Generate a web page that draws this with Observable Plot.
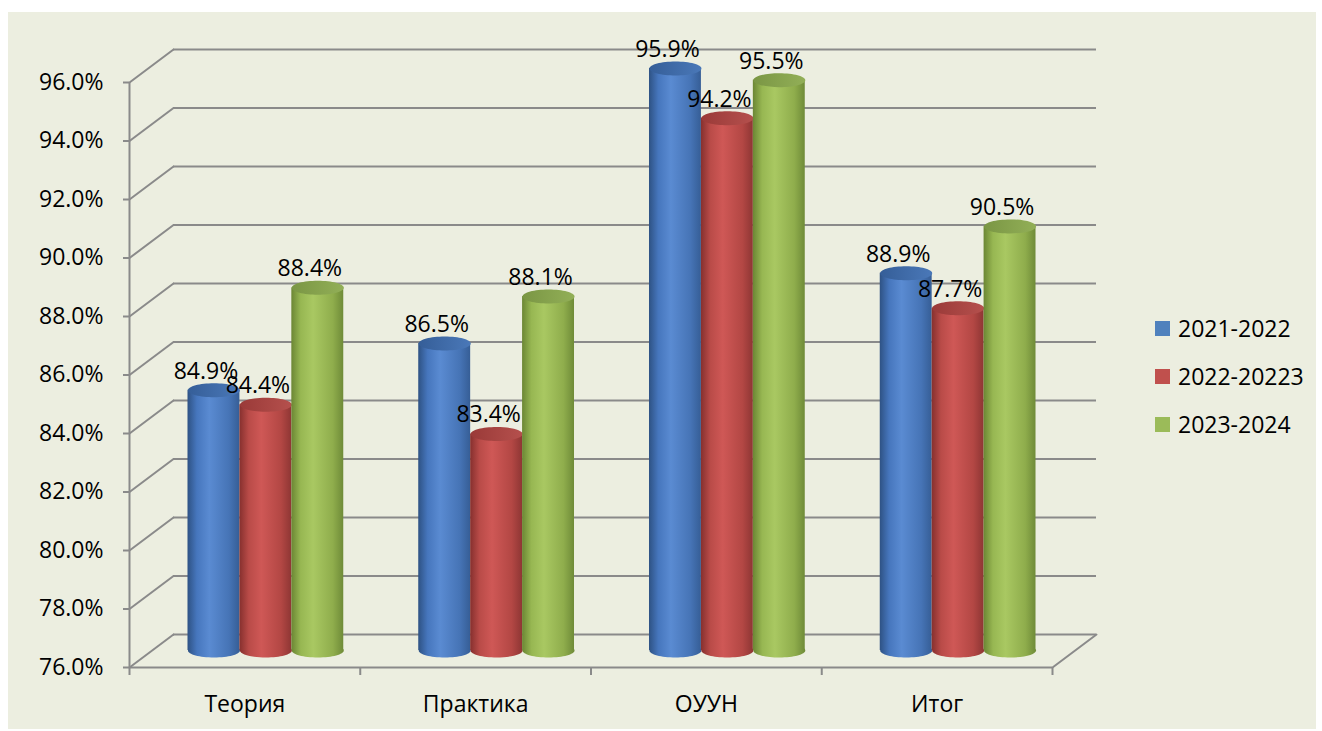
<!DOCTYPE html>
<html>
<head>
<meta charset="utf-8">
<script src="https://cdn.jsdelivr.net/npm/d3@7"></script>
<script src="https://cdn.jsdelivr.net/npm/@observablehq/plot@0.6"></script>
<style>
  html, body { margin: 0; padding: 0; background: #ffffff; }
  body { width: 1322px; height: 731px; position: relative; overflow: hidden; font-family: "Open Sans", sans-serif; }
  #panel { position: absolute; left: 8px; top: 12px; width: 1308px; height: 717px; background: #ECEEE0; }
  #chart { position: absolute; left: 0; top: 0; }
  #legend { position: absolute; left: 1155px; top: 304px; font-size: 23px; color: #000; }
  #legend .row { display: flex; align-items: center; height: 48px; }
  #legend .sw { width: 15px; height: 15px; margin-right: 8px; }
</style>
</head>
<body>
<div id="panel"></div>
<div id="chart"></div>
<div id="legend"></div>
<script>
// ---- data ----
const categories = ["Теория", "Практика", "ОУУН", "Итог"];
const seriesNames = ["2021-2022", "2022-20223", "2023-2024"];
const values2021 = [84.9, 86.5, 95.9, 88.9];
const values2022 = [84.4, 83.4, 94.2, 87.7];
const values2023 = [88.4, 88.1, 95.5, 90.5];
const yTicks = [76, 78, 80, 82, 84, 86, 88, 90, 92, 94, 96];

// ---- styles ----
const seriesValues = [values2021, values2022, values2023];
const swatch = ["#4F81BD", "#C0504D", "#9BBB59"];
const bodyStops = [
  [["0", "#2E5284"], ["0.18", "#4676BD"], ["0.42", "#5A8BD2"], ["0.8", "#4674B6"], ["1", "#365E96"]],
  [["0", "#86302E"], ["0.18", "#B94B48"], ["0.42", "#CF5856"], ["0.8", "#B34744"], ["1", "#8E3634"]],
  [["0", "#6B8634"], ["0.18", "#97B752"], ["0.42", "#A9C862"], ["0.8", "#8FAD4C"], ["1", "#6F8B38"]]
];
const capStops = [
  [["0", "#355E98"], ["1", "#4A78B8"]],
  [["0", "#9A3A38"], ["1", "#B5504D"]],
  [["0", "#7A9644"], ["1", "#92AF57"]]
];
const gridColor = "#8A8A8A";
const back = {dx: 44, dy: -33};      // back wall offset (px)
const mid = {dx: 21, dy: -17};       // cylinder depth offset (px)
const barW = 0.225;                  // bar width as fraction of a category
const rx = 26, ry = 7;               // cylinder ellipse radii (px)

const rows = [];
categories.forEach((c, i) => {
  seriesNames.forEach((s, j) => {
    rows.push({category: c, ci: i, series: s, si: j, value: seriesValues[j][i]});
  });
});
const center = d => d.ci + 0.5 + (d.si - 1) * barW;

const k = 0.5523;
const ellipse = {
  draw(ctx) {
    ctx.moveTo(-rx, 0);
    ctx.bezierCurveTo(-rx, -ry * k, -rx * k, -ry, 0, -ry);
    ctx.bezierCurveTo(rx * k, -ry, rx, -ry * k, rx, 0);
    ctx.bezierCurveTo(rx, ry * k, rx * k, ry, 0, ry);
    ctx.bezierCurveTo(-rx * k, ry, -rx, ry * k, -rx, 0);
    ctx.closePath();
  }
};
const lineShape = { draw(ctx, l) { ctx.moveTo(0, 0); ctx.lineTo(0, -l); } };
const backLen = Math.hypot(back.dx, back.dy);
const backAngle = Math.atan2(back.dx, -back.dy) * 180 / Math.PI;

const cylMarks = [];
seriesNames.forEach((s, j) => {
  const d = rows.filter(r => r.si === j);
  cylMarks.push(
    Plot.dot(d, {x: center, y: () => 76, symbol: ellipse, fill: `url(#body${j})`, stroke: "none", ...mid}),
    Plot.rectY(d, {x1: r => center(r) - barW / 2, x2: r => center(r) + barW / 2, y1: 76, y2: "value", fill: `url(#body${j})`, ...mid}),
    Plot.dot(d, {x: center, y: "value", symbol: ellipse, fill: `url(#cap${j})`, stroke: "none", ...mid})
  );
});

const chart = Plot.plot({
  width: 1322,
  height: 731,
  marginLeft: 129,
  marginRight: 270,
  marginTop: 82,
  marginBottom: 64,
  style: {background: "transparent", fontFamily: "Open Sans, sans-serif", fontSize: "23px", color: "#000"},
  x: {type: "linear", domain: [0, 4], label: null},
  y: {type: "linear", domain: [76, 96], label: null},
  marks: [
    // back wall gridlines
    Plot.ruleY(yTicks, {x1: 0, x2: 4, stroke: gridColor, strokeWidth: 2, ...back}),
    // side wall diagonals
    Plot.vector(yTicks, {x: 0, y: d => d, length: backLen, rotate: backAngle, anchor: "start", shape: lineShape, stroke: gridColor, strokeWidth: 2}),
    Plot.vector([76], {x: 4, y: d => d, length: backLen, rotate: backAngle, anchor: "start", shape: lineShape, stroke: gridColor, strokeWidth: 2}),
    // floor front edge and left axis line
    Plot.ruleY([76], {x1: 0, x2: 4, stroke: gridColor, strokeWidth: 2}),
    Plot.ruleX([0], {y1: 76, y2: 96, stroke: gridColor, strokeWidth: 2}),
    Plot.axisY({ticks: yTicks, tickFormat: d => d.toFixed(1) + "%", tickSize: 6, tickPadding: 20, stroke: gridColor, strokeWidth: 2, fill: "#000", fontSize: 23, label: null}),
    Plot.axisX({ticks: [0, 1, 2, 3, 4], tickFormat: () => "", tickSize: 8, stroke: gridColor, strokeWidth: 2, label: null}),
    Plot.axisX({ticks: [0.5, 1.5, 2.5, 3.5], tickFormat: d => categories[Math.floor(d)], tickSize: 0, tickPadding: 28, fill: "#000", fontSize: 23, label: null}),
    ...cylMarks,
    Plot.text(rows, {x: center, y: "value", text: d => d.value.toFixed(1) + "%", dx: 13, dy: -36, fill: "#000", fontSize: 23})
  ]
});

const defs = d3.select(chart).insert("defs", ":first-child");
bodyStops.forEach((stops, j) => {
  const g = defs.append("linearGradient").attr("id", `body${j}`).attr("x1", 0).attr("x2", 1).attr("y1", 0).attr("y2", 0);
  stops.forEach(([o, c]) => g.append("stop").attr("offset", o).attr("stop-color", c));
});
capStops.forEach((stops, j) => {
  const g = defs.append("linearGradient").attr("id", `cap${j}`).attr("x1", 0).attr("x2", 1).attr("y1", 0).attr("y2", 0);
  stops.forEach(([o, c]) => g.append("stop").attr("offset", o).attr("stop-color", c));
});

document.getElementById("chart").appendChild(chart);

const legend = document.getElementById("legend");
seriesNames.forEach((s, j) => {
  const row = document.createElement("div");
  row.className = "row";
  const sw = document.createElement("div");
  sw.className = "sw";
  sw.style.background = swatch[j];
  const t = document.createElement("span");
  t.textContent = s;
  row.appendChild(sw);
  row.appendChild(t);
  legend.appendChild(row);
});
</script>
</body>
</html>
